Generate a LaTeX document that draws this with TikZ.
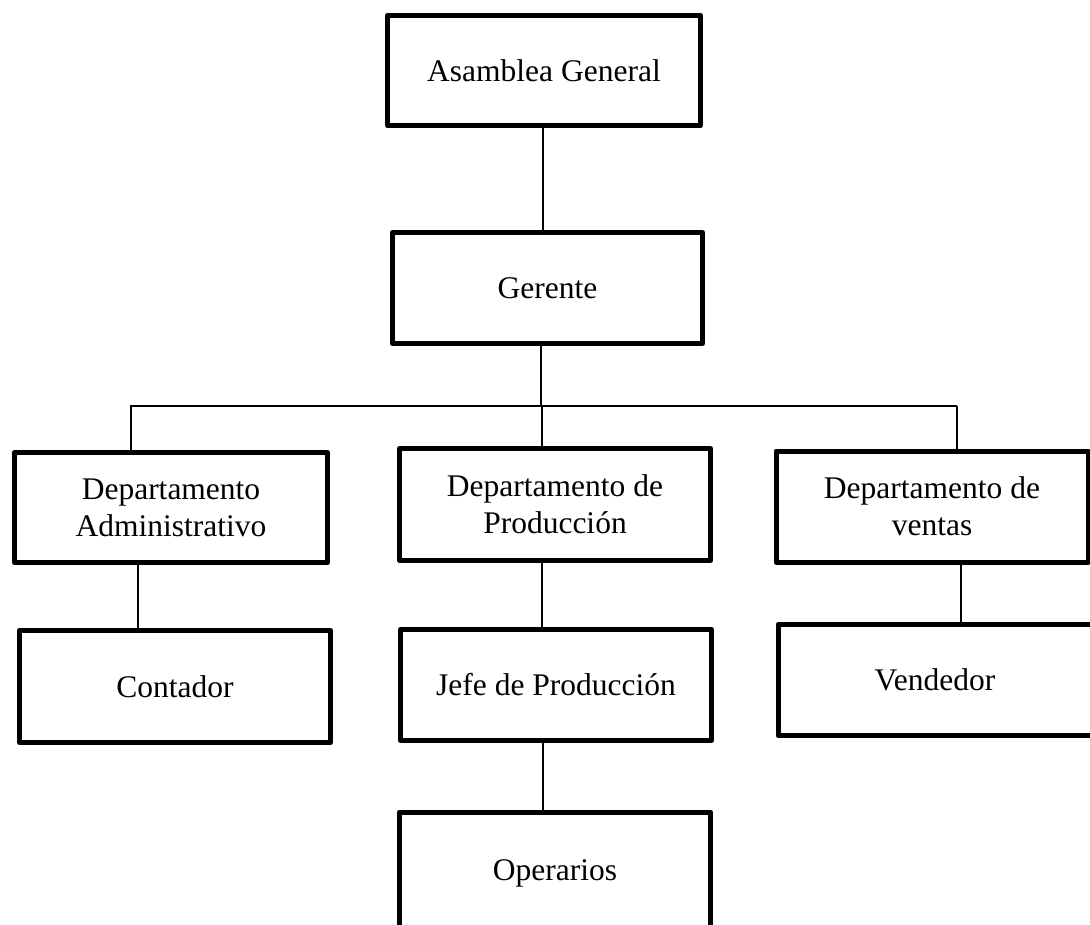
\documentclass[tikz,border=0pt]{standalone}
\usepackage{fontspec}
\setmainfont{Liberation Serif}
\begin{document}
\begin{tikzpicture}[x=1pt,y=-1pt,
  box/.style={draw=black,line width=5pt,line join=round,rectangle,inner sep=0pt,
    align=center,font=\fontsize{31.5}{37}\selectfont},
  conn/.style={draw=black,line width=1.4pt}]
\useasboundingbox (0,0) rectangle (1090,924);
\clip (0,0) rectangle (1090,924);
\fill[white] (0,0) rectangle (1090,924);
% boxes (centre, size)
\node[box,minimum width=313pt,minimum height=110pt] (asam) at (544,70.5) {Asamblea General};
\node[box,minimum width=310pt,minimum height=111pt] (ger) at (547.5,288) {Gerente};
\node[box,minimum width=313pt,minimum height=110pt] (adm) at (171,507.5) {Departamento\\Administrativo};
\node[box,minimum width=311pt,minimum height=112pt] (prod) at (555,504.5) {Departamento de\\Producción};
\node[box,minimum width=312pt,minimum height=111pt] (ven) at (932,506.5) {Departamento de\\ventas};
\node[box,minimum width=311pt,minimum height=112pt] (cont) at (175,686.5) {Contador};
\node[box,minimum width=311pt,minimum height=111pt] (jefe) at (556,685) {Jefe de Producción};
\node[box,minimum width=314pt,minimum height=111pt] (ven2) at (935,680) {Vendedor};
\node[box,minimum width=311pt,minimum height=122pt] (oper) at (555,873) {Operarios};
% connectors
\coordinate (busL) at (130,406);
\coordinate (busR) at (957,406);
\coordinate (busM) at (541,406);
\draw[conn] ([xshift=-1pt]asam.south) -- ([xshift=-1pt]asam.south |- ger.north);
\draw[conn] (busM |- ger.south) -- (busM);
\draw[conn] (busL) -- (busR);
\draw[conn] ([xshift=1pt]busL) -- ([xshift=1pt]busL |- adm.north);
\draw[conn] ([xshift=1pt]busM) -- ([xshift=1pt]busM |- prod.north);
\draw[conn] (busR) -- (busR |- ven.north);
\draw[conn] ([xshift=-33pt]adm.south) -- ([xshift=-33pt]adm.south |- cont.north);
\draw[conn] ([xshift=-13pt]prod.south) -- ([xshift=-13pt]prod.south |- jefe.north);
\draw[conn] ([xshift=-13pt]jefe.south) -- ([xshift=-13pt]jefe.south |- oper.north);
\draw[conn] ([xshift=29pt]ven.south) -- ([xshift=29pt]ven.south |- ven2.north);
\end{tikzpicture}
\end{document}
